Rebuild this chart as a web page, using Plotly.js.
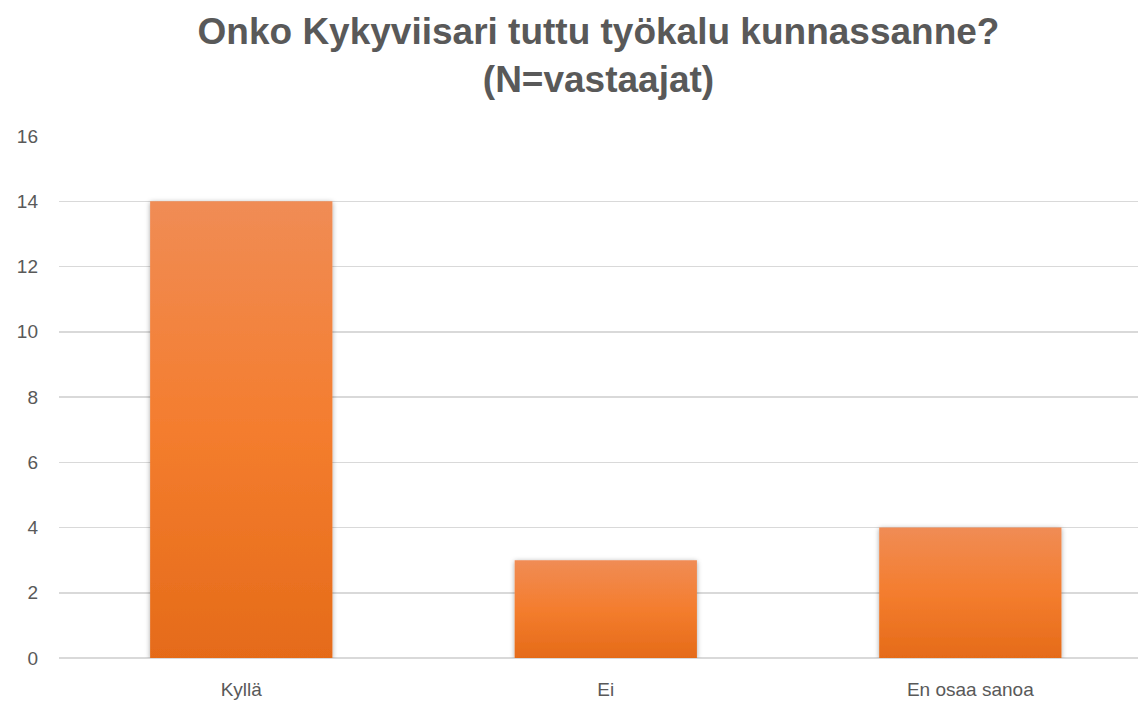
<!DOCTYPE html>
<html>
<head>
<meta charset="utf-8">
<script src="https://cdn.plot.ly/plotly-3.0.1.min.js"></script>
<style>html,body{margin:0;padding:0;background:#fff;}#chart{width:1138px;height:702px;}</style>
</head>
<body>
<div id="chart"></div>
<script>
const categories = ["Kyllä", "Ei", "En osaa sanoa"];
const values = [14, 3, 4];
const yTicks = [0, 2, 4, 6, 8, 10, 12, 14, 16];
const titleText = "Onko Kykyviisari tuttu työkalu kunnassanne?<br>(N=vastaajat)";

const FONT = "Liberation Sans, Arial, sans-serif";
const trace = {
  type: "bar",
  x: categories,
  y: values,
  width: 0.5,
  marker: { color: "#f07d2f", line: { width: 0 } },
  hoverinfo: "none"
};
const layout = {
  width: 1138, height: 702,
  margin: { l: 59, r: 0, t: 136, b: 44 },
  paper_bgcolor: "#ffffff", plot_bgcolor: "#ffffff",
  showlegend: false,
  title: {
    text: titleText,
    font: { family: FONT, size: 37, color: "#595959", weight: "bold" },
    x: 0.5, xref: "paper", xanchor: "center",
    y: 1 - 44 / 702, yref: "container", yanchor: "middle"
  },
  xaxis: {
    type: "category",
    range: [-0.5, 2.46],
    showgrid: false, zeroline: false, showline: false,
    ticks: "", ticklabelstandoff: 18,
    tickfont: { family: FONT, size: 19, color: "#595959" }
  },
  yaxis: {
    range: [0, 16],
    tickvals: yTicks,
    ticktext: yTicks.map(String),
    showgrid: true, gridcolor: "#d9d9d9", gridwidth: 1.5,
    zeroline: true, zerolinecolor: "#d9d9d9", zerolinewidth: 2,
    showline: false, ticks: "", ticklabelstandoff: 20,
    tickfont: { family: FONT, size: 19, color: "#595959" }
  }
};
Plotly.newPlot("chart", [trace], layout, { staticPlot: true, displayModeBar: false }).then(gd => {
  const svg = gd.querySelector("svg.main-svg");
  const ns = "http://www.w3.org/2000/svg";
  let defs = svg.querySelector("defs");
  if (!defs) { defs = document.createElementNS(ns, "defs"); svg.insertBefore(defs, svg.firstChild); }
  const grad = document.createElementNS(ns, "linearGradient");
  grad.setAttribute("id", "barGrad");
  grad.setAttribute("x1", "0"); grad.setAttribute("y1", "0");
  grad.setAttribute("x2", "0"); grad.setAttribute("y2", "1");
  [["0", "#f08c55"], ["0.5", "#f47d2e"], ["1", "#e56b19"]].forEach(([o, c]) => {
    const s = document.createElementNS(ns, "stop");
    s.setAttribute("offset", o); s.setAttribute("stop-color", c);
    grad.appendChild(s);
  });
  defs.appendChild(grad);
  const filt = document.createElementNS(ns, "filter");
  filt.setAttribute("id", "barShadow");
  filt.setAttribute("x", "-10%"); filt.setAttribute("y", "-10%");
  filt.setAttribute("width", "120%"); filt.setAttribute("height", "120%");
  filt.innerHTML = '<feDropShadow dx="0" dy="1" stdDeviation="2.5" flood-color="#000" flood-opacity="0.35"/>';
  defs.appendChild(filt);
  gd.querySelectorAll(".barlayer .point path").forEach(p => {
    p.style.fill = "url(#barGrad)";
    p.setAttribute("filter", "url(#barShadow)");
  });
});
</script>
</body>
</html>
